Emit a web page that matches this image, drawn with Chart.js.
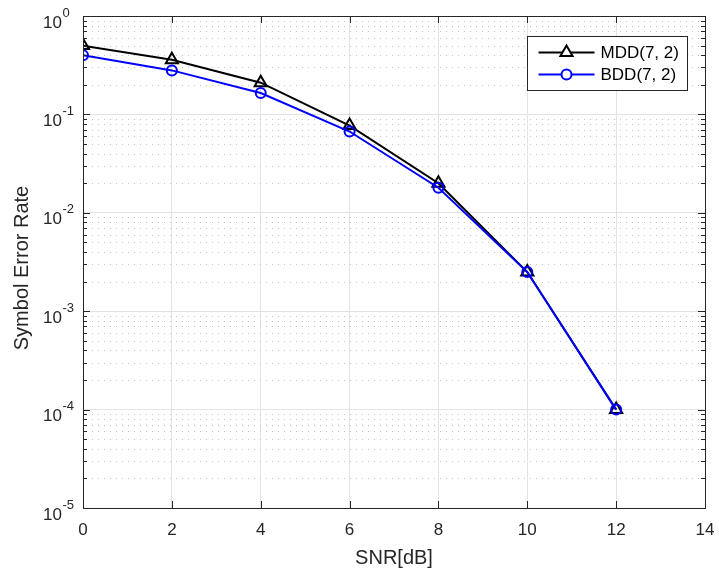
<!DOCTYPE html>
<html>
  <head>
    <title>Symbol Error Rate vs SNR</title>
    <style>
      html, body { margin: 0; padding: 0; background: #fff; }
      #wrap { width: 719px; height: 575px; position: relative; }
    </style>
  </head>
  <body>
    <script src="https://cdn.jsdelivr.net/npm/chart.js@4.4.1/dist/chart.umd.min.js"></script>

    <div id="wrap"><canvas id="serChart"></canvas></div>

    <script>
      // SNR points (dB) and measured symbol error rates
      const snrDb = [0, 2, 4, 6, 8, 10, 12];
      const serMdd = [0.50, 0.36, 0.21, 0.077, 0.020, 0.0025, 0.0001];
      const serBdd = [0.40, 0.28, 0.165, 0.067, 0.018, 0.0025, 0.0001];
      const xTicks = [0, 2, 4, 6, 8, 10, 12, 14];
      const yExponents = [-5, -4, -3, -2, -1, 0];

      const axisColor = "#262626";
      const font = "'Liberation Sans', Arial, Helvetica, sans-serif";

      // MATLAB-like frame: minor dotted grid, inward ticks, box, titles and 10^n labels
      const matlabAxes = {
        id: "matlabAxes",
        beforeDatasetsDraw(chart) {
          const { ctx, chartArea: a, scales: { y } } = chart;
          ctx.save();
          ctx.strokeStyle = "#c4c4c4";
          ctx.lineWidth = 1;
          ctx.setLineDash([1, 5]);
          for (let e = -5; e < 0; e++) {
            for (let m = 2; m <= 9; m++) {
              const py = Math.round(y.getPixelForValue(m * Math.pow(10, e))) + 0.5;
              ctx.beginPath();
              ctx.moveTo(a.left + 3, py);
              ctx.lineTo(a.right, py);
              ctx.stroke();
            }
          }
          ctx.restore();
        },
        afterDraw(chart) {
          const { ctx, chartArea: a, scales: { x, y } } = chart;
          ctx.save();
          ctx.strokeStyle = axisColor;
          ctx.lineWidth = 1;
          // box
          ctx.strokeRect(Math.round(a.left) + 0.5, Math.round(a.top) + 0.5,
            Math.round(a.right - a.left), Math.round(a.bottom - a.top));
          // y ticks (major + minor), both sides
          for (let e = -5; e <= 0; e++) {
            for (let m = 1; m <= 9; m++) {
              if (e === 0 && m > 1) break;
              const py = Math.round(y.getPixelForValue(m * Math.pow(10, e))) + 0.5;
              const len = m === 1 ? 7 : 4;
              ctx.beginPath();
              ctx.moveTo(a.left, py); ctx.lineTo(a.left + len, py);
              ctx.moveTo(a.right, py); ctx.lineTo(a.right - len, py);
              ctx.stroke();
            }
          }
          // x ticks, bottom and top
          xTicks.forEach(v => {
            const px = Math.round(x.getPixelForValue(v)) + 0.5;
            ctx.beginPath();
            ctx.moveTo(px, a.bottom); ctx.lineTo(px, a.bottom - 7);
            ctx.moveTo(px, a.top); ctx.lineTo(px, a.top + 7);
            ctx.stroke();
          });
          // y labels as 10 with superscript exponent
          ctx.fillStyle = axisColor;
          ctx.textBaseline = "middle";
          yExponents.forEach(e => {
            const py = y.getPixelForValue(Math.pow(10, e));
            ctx.font = "17px " + font;
            ctx.textAlign = "right";
            ctx.fillText("10", 62, py + 7);
            ctx.font = "13px " + font;
            ctx.textAlign = "left";
            ctx.fillText(e === 0 ? "0" : "-" + Math.abs(e), 62.5, py - 3);
          });
          // axis titles
          ctx.font = "20px " + font;
          ctx.textAlign = "center";
          ctx.fillText("SNR[dB]", (a.left + a.right) / 2, 558);
          ctx.translate(22, (a.top + a.bottom) / 2 + 6);
          ctx.rotate(-Math.PI / 2);
          ctx.fillText("Symbol Error Rate", 0, 0);
          ctx.restore();
        }
      };

      // legend box drawn inside the plot area, top right
      const insideLegend = {
        id: "insideLegend",
        afterDraw(chart) {
          const { ctx } = chart;
          const bx = 527.5, by = 36.5, bw = 160, bh = 54;
          ctx.save();
          ctx.fillStyle = "#fff";
          ctx.fillRect(bx, by, bw, bh);
          ctx.strokeStyle = "#262626";
          ctx.lineWidth = 1;
          ctx.strokeRect(bx, by, bw, bh);
          chart.data.datasets.forEach((ds, i) => {
            const ly = by + 16 + i * 22;
            ctx.strokeStyle = ds.borderColor;
            ctx.lineWidth = ds.borderWidth;
            ctx.beginPath();
            ctx.moveTo(bx + 11, ly);
            ctx.lineTo(bx + 67, ly);
            ctx.stroke();
            ctx.lineWidth = ds.pointBorderWidth;
            ctx.fillStyle = "#fff";
            Chart.helpers.drawPoint(ctx, {
              pointStyle: ds.pointStyle, radius: ds.pointRadius, rotation: 0, borderWidth: ds.pointBorderWidth
            }, bx + 39, ly);
            ctx.fillStyle = "#000";
            ctx.font = "17px " + font;
            ctx.textAlign = "left";
            ctx.textBaseline = "middle";
            ctx.fillText(ds.label, bx + 73, ly + 1);
          });
          ctx.restore();
        }
      };

      const ctx = document.getElementById("serChart").getContext("2d");

      const chart = new Chart(ctx, {
        type: "line",
        data: {
          datasets: [
            {
              label: "MDD(7, 2)",
              data: snrDb.map((s, i) => ({ x: s, y: serMdd[i] })),
              borderColor: "#000000",
              borderWidth: 2,
              pointStyle: "triangle",
              pointRadius: 7,
              pointBorderWidth: 2,
              pointBorderColor: "#000000",
              pointBackgroundColor: "rgba(0,0,0,0)",
              order: 1
            },
            {
              label: "BDD(7, 2)",
              data: snrDb.map((s, i) => ({ x: s, y: serBdd[i] })),
              borderColor: "#0000ff",
              borderWidth: 2,
              pointStyle: "circle",
              pointRadius: 5,
              pointBorderWidth: 2,
              pointBorderColor: "#0000ff",
              pointBackgroundColor: "rgba(0,0,0,0)",
              order: 0
            }
          ]
        },
        options: {
          responsive: true,
          maintainAspectRatio: false,
          animation: false,
          events: [],
          layout: { padding: { top: 16, right: 14, left: 0, bottom: 0 } },
          plugins: {
            legend: { display: false },
            tooltip: { enabled: false }
          },
          scales: {
            x: {
              type: "linear",
              min: 0,
              max: 14,
              afterBuildTicks: s => { s.ticks = xTicks.map(v => ({ value: v })); },
              afterFit: s => { s.height = 67; s.paddingLeft = 0; s.paddingRight = 0; },
              grid: { color: "#e3e3e3", drawTicks: false },
              border: { display: false },
              ticks: {
                color: axisColor,
                font: { family: font, size: 17 },
                padding: 12,
                maxRotation: 0
              }
            },
            y: {
              type: "logarithmic",
              min: 1e-5,
              max: 1,
              afterBuildTicks: s => { s.ticks = yExponents.map(e => ({ value: Math.pow(10, e), major: true })); },
              afterFit: s => { s.width = 83; s.paddingTop = 0; s.paddingBottom = 0; },
              grid: { color: "#e3e3e3", drawTicks: false },
              border: { display: false },
              ticks: { callback: () => "", padding: 0 }
            }
          }
        },
        plugins: [matlabAxes, insideLegend]
      });
    </script>
  </body>
</html>
